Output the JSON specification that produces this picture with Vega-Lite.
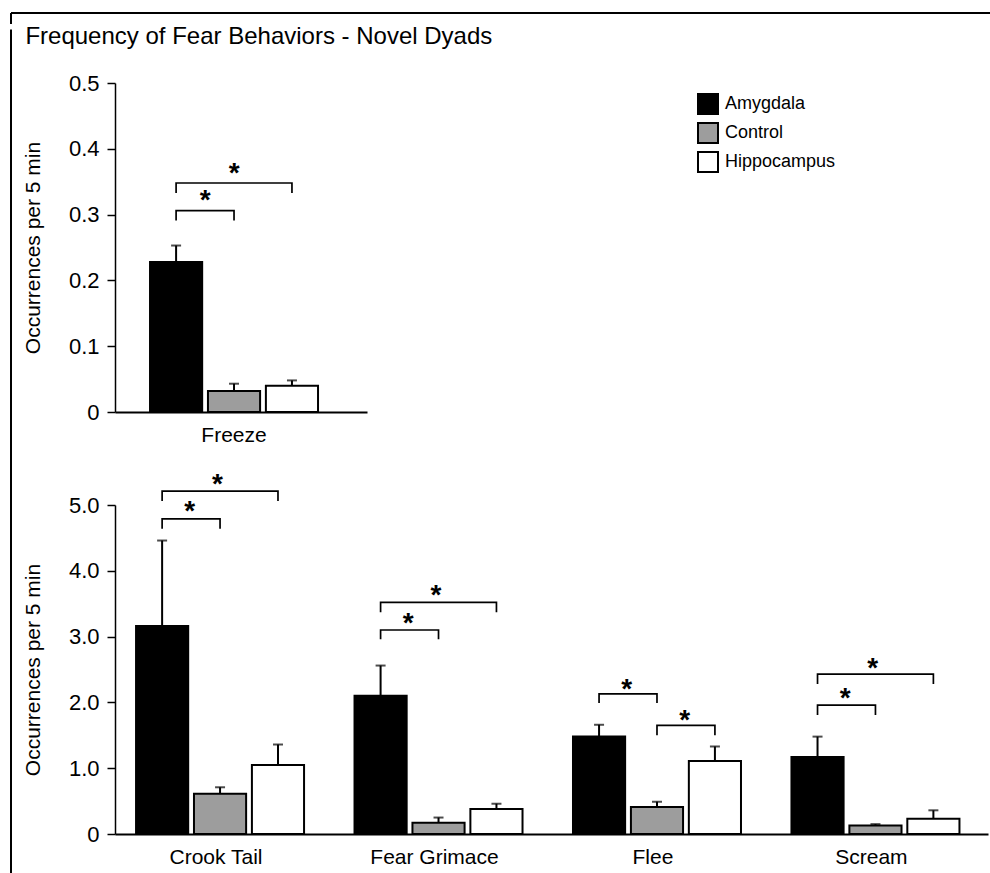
{
  "$schema": "https://vega.github.io/schema/vega-lite/v6.json",
  "padding": {"left": 10, "top": 12, "right": 0, "bottom": 0},
  "background": "white",
  "config": {
    "font": "Liberation Sans",
    "view": {"stroke": null},
    "axis": {"labelColor": "black", "titleColor": "black", "domainColor": "black", "tickColor": "black", "labelFont": "Liberation Sans", "titleFont": "Liberation Sans", "titleFontWeight": "normal", "grid": false},
    "legend": {"labelFont": "Liberation Sans", "labelColor": "black"}
  },
  "datasets": {
    "top_bars": [
      {"behavior": "Freeze", "group": "Amygdala", "mean": 0.228, "hi": 0.253},
      {"behavior": "Freeze", "group": "Control", "mean": 0.032, "hi": 0.043},
      {"behavior": "Freeze", "group": "Hippocampus", "mean": 0.040, "hi": 0.048}
    ],
    "top_br": [
      {"behavior": "Freeze", "bid": "f1", "seq": 1, "group": "Amygdala", "v": 0.291},
      {"behavior": "Freeze", "bid": "f1", "seq": 2, "group": "Amygdala", "v": 0.306},
      {"behavior": "Freeze", "bid": "f1", "seq": 3, "group": "Control", "v": 0.306},
      {"behavior": "Freeze", "bid": "f1", "seq": 4, "group": "Control", "v": 0.291},
      {"behavior": "Freeze", "bid": "f2", "seq": 1, "group": "Amygdala", "v": 0.333},
      {"behavior": "Freeze", "bid": "f2", "seq": 2, "group": "Amygdala", "v": 0.348},
      {"behavior": "Freeze", "bid": "f2", "seq": 3, "group": "Hippocampus", "v": 0.348},
      {"behavior": "Freeze", "bid": "f2", "seq": 4, "group": "Hippocampus", "v": 0.333}
    ],
    "top_st": [
      {"behavior": "Freeze", "from": "Amygdala", "span": "pair", "star": 0.327, "sig": "*"},
      {"behavior": "Freeze", "from": "Amygdala", "span": "wide", "star": 0.368, "sig": "*"}
    ],
    "bot_bars": [
      {"behavior": "Crook Tail", "group": "Amygdala", "mean": 3.16, "hi": 4.46},
      {"behavior": "Crook Tail", "group": "Control", "mean": 0.61, "hi": 0.71},
      {"behavior": "Crook Tail", "group": "Hippocampus", "mean": 1.05, "hi": 1.36},
      {"behavior": "Fear Grimace", "group": "Amygdala", "mean": 2.10, "hi": 2.56},
      {"behavior": "Fear Grimace", "group": "Control", "mean": 0.17, "hi": 0.25},
      {"behavior": "Fear Grimace", "group": "Hippocampus", "mean": 0.38, "hi": 0.46},
      {"behavior": "Flee", "group": "Amygdala", "mean": 1.48, "hi": 1.66},
      {"behavior": "Flee", "group": "Control", "mean": 0.41, "hi": 0.49},
      {"behavior": "Flee", "group": "Hippocampus", "mean": 1.11, "hi": 1.33},
      {"behavior": "Scream", "group": "Amygdala", "mean": 1.17, "hi": 1.48},
      {"behavior": "Scream", "group": "Control", "mean": 0.13, "hi": 0.15},
      {"behavior": "Scream", "group": "Hippocampus", "mean": 0.23, "hi": 0.36}
    ],
    "bot_br": [
      {"behavior": "Crook Tail", "bid": "c1", "seq": 1, "group": "Amygdala", "v": 4.64},
      {"behavior": "Crook Tail", "bid": "c1", "seq": 2, "group": "Amygdala", "v": 4.79},
      {"behavior": "Crook Tail", "bid": "c1", "seq": 3, "group": "Control", "v": 4.79},
      {"behavior": "Crook Tail", "bid": "c1", "seq": 4, "group": "Control", "v": 4.64},
      {"behavior": "Crook Tail", "bid": "c2", "seq": 1, "group": "Amygdala", "v": 5.06},
      {"behavior": "Crook Tail", "bid": "c2", "seq": 2, "group": "Amygdala", "v": 5.21},
      {"behavior": "Crook Tail", "bid": "c2", "seq": 3, "group": "Hippocampus", "v": 5.21},
      {"behavior": "Crook Tail", "bid": "c2", "seq": 4, "group": "Hippocampus", "v": 5.06},
      {"behavior": "Fear Grimace", "bid": "g1", "seq": 1, "group": "Amygdala", "v": 2.96},
      {"behavior": "Fear Grimace", "bid": "g1", "seq": 2, "group": "Amygdala", "v": 3.10},
      {"behavior": "Fear Grimace", "bid": "g1", "seq": 3, "group": "Control", "v": 3.10},
      {"behavior": "Fear Grimace", "bid": "g1", "seq": 4, "group": "Control", "v": 2.96},
      {"behavior": "Fear Grimace", "bid": "g2", "seq": 1, "group": "Amygdala", "v": 3.37},
      {"behavior": "Fear Grimace", "bid": "g2", "seq": 2, "group": "Amygdala", "v": 3.52},
      {"behavior": "Fear Grimace", "bid": "g2", "seq": 3, "group": "Hippocampus", "v": 3.52},
      {"behavior": "Fear Grimace", "bid": "g2", "seq": 4, "group": "Hippocampus", "v": 3.37},
      {"behavior": "Flee", "bid": "l1", "seq": 1, "group": "Amygdala", "v": 1.99},
      {"behavior": "Flee", "bid": "l1", "seq": 2, "group": "Amygdala", "v": 2.13},
      {"behavior": "Flee", "bid": "l1", "seq": 3, "group": "Control", "v": 2.13},
      {"behavior": "Flee", "bid": "l1", "seq": 4, "group": "Control", "v": 1.99},
      {"behavior": "Flee", "bid": "l2", "seq": 1, "group": "Control", "v": 1.50},
      {"behavior": "Flee", "bid": "l2", "seq": 2, "group": "Control", "v": 1.65},
      {"behavior": "Flee", "bid": "l2", "seq": 3, "group": "Hippocampus", "v": 1.65},
      {"behavior": "Flee", "bid": "l2", "seq": 4, "group": "Hippocampus", "v": 1.50},
      {"behavior": "Scream", "bid": "s1", "seq": 1, "group": "Amygdala", "v": 1.81},
      {"behavior": "Scream", "bid": "s1", "seq": 2, "group": "Amygdala", "v": 1.96},
      {"behavior": "Scream", "bid": "s1", "seq": 3, "group": "Control", "v": 1.96},
      {"behavior": "Scream", "bid": "s1", "seq": 4, "group": "Control", "v": 1.81},
      {"behavior": "Scream", "bid": "s2", "seq": 1, "group": "Amygdala", "v": 2.28},
      {"behavior": "Scream", "bid": "s2", "seq": 2, "group": "Amygdala", "v": 2.43},
      {"behavior": "Scream", "bid": "s2", "seq": 3, "group": "Hippocampus", "v": 2.43},
      {"behavior": "Scream", "bid": "s2", "seq": 4, "group": "Hippocampus", "v": 2.28}
    ],
    "bot_st": [
      {"behavior": "Crook Tail", "from": "Amygdala", "span": "pair", "star": 4.95, "sig": "*"},
      {"behavior": "Crook Tail", "from": "Amygdala", "span": "wide", "star": 5.37, "sig": "*"},
      {"behavior": "Fear Grimace", "from": "Amygdala", "span": "pair", "star": 3.25, "sig": "*"},
      {"behavior": "Fear Grimace", "from": "Amygdala", "span": "wide", "star": 3.68, "sig": "*"},
      {"behavior": "Flee", "from": "Amygdala", "span": "pair", "star": 2.25, "sig": "*"},
      {"behavior": "Flee", "from": "Control", "span": "pair", "star": 1.78, "sig": "*"},
      {"behavior": "Scream", "from": "Amygdala", "span": "pair", "star": 2.12, "sig": "*"},
      {"behavior": "Scream", "from": "Amygdala", "span": "wide", "star": 2.57, "sig": "*"}
    ]
  },
  "spacing": 0,
  "vconcat": [
    {
      "width": 980,
      "height": 11,
      "data": {"values": [{"edge": "frame"}]},
      "layer": [
        {"mark": {"type": "rule", "color": "black", "strokeWidth": 2}, "encoding": {"y": {"datum": 1, "type": "quantitative", "scale": {"domain": [0, 1]}, "axis": null}}},
        {"mark": {"type": "rule", "color": "black", "strokeWidth": 2}, "encoding": {"x": {"datum": 0, "type": "quantitative", "scale": {"domain": [0, 1]}, "axis": null}}}
      ]
    },
    {
      "columns": 2,
      "align": "none",
      "spacing": 10,
      "concat": [
        {
          "width": 1,
          "height": 790,
          "data": {"values": [{"edge": "frame"}]},
          "mark": {"type": "rule", "color": "black", "strokeWidth": 2},
          "encoding": {
            "x": {"datum": 0, "type": "quantitative", "scale": {"domain": [0, 1]}, "axis": null},
            "y": {"datum": 0, "type": "quantitative", "scale": {"domain": [0, 1]}, "axis": null},
            "y2": {"datum": 1.0677}
          }
        },
        {
          "title": {"text": "Frequency of Fear Behaviors - Novel Dyads", "anchor": "start", "fontSize": 24, "fontWeight": "normal", "color": "black", "font": "Liberation Sans", "offset": 23, "dx": 3},
          "spacing": 25,
          "vconcat": [
            {
              "width": 252,
              "height": 329,
              "layer": [
                {
                  "data": {"name": "top_bars"},
                  "mark": {"type": "bar", "stroke": "black", "strokeWidth": 2},
                  "encoding": {
                    "x": {"field": "behavior", "type": "nominal", "scale": {"paddingInner": 0, "paddingOuter": 0.25, "align": 0.417}, "axis": {"title": null, "ticks": false, "labelPadding": 12, "labelFontSize": 21, "domainWidth": 2, "labelAngle": 0}},
                    "xOffset": {"field": "group", "type": "nominal", "scale": {"domain": ["Amygdala", "Control", "Hippocampus"], "paddingInner": 0.1, "paddingOuter": 0}},
                    "y": {"field": "mean", "type": "quantitative", "scale": {"domain": [0, 0.5], "nice": false}, "axis": {"title": "Occurrences per 5 min", "titleFontSize": 21, "titlePadding": 25, "values": [0, 0.05, 0.1, 0.15, 0.2, 0.25, 0.3, 0.35, 0.4, 0.45, 0.5], "labelExpr": "abs(datum.value*10 - round(datum.value*10)) < 0.001 ? (datum.value == 0 ? '0' : format(datum.value, '.1f')) : ''", "tickSize": {"condition": {"test": "abs(datum.value*10 - round(datum.value*10)) < 0.001", "value": 8}, "value": 4}, "labelFontSize": 22, "labelPadding": 8, "domainWidth": 1.5, "tickWidth": 1.5}},
                    "fill": {"field": "group", "type": "nominal", "scale": {"domain": ["Amygdala", "Control", "Hippocampus"], "range": ["#000000", "#9d9d9d", "#ffffff"]}, "legend": {"orient": "none", "legendX": 686, "legendY": 80, "title": null, "symbolType": "square", "symbolSize": 400, "symbolStrokeColor": "black", "symbolStrokeWidth": 2, "labelFontSize": 18, "rowPadding": 1, "labelOffset": 6, "padding": 0}}
                  }
                },
                {
                  "data": {"name": "top_bars"},
                  "mark": {"type": "rule", "color": "black", "strokeWidth": 2},
                  "encoding": {"x": {"field": "behavior", "type": "nominal"}, "xOffset": {"field": "group", "type": "nominal"}, "y": {"field": "mean", "type": "quantitative"}, "y2": {"field": "hi"}}
                },
                {
                  "data": {"name": "top_bars"},
                  "mark": {"type": "tick", "color": "black", "thickness": 2, "size": 10},
                  "encoding": {"x": {"field": "behavior", "type": "nominal"}, "xOffset": {"field": "group", "type": "nominal"}, "y": {"field": "hi", "type": "quantitative"}}
                },
                {
                  "data": {"name": "top_br"},
                  "mark": {"type": "line", "color": "black", "strokeWidth": 1.7},
                  "encoding": {"x": {"field": "behavior", "type": "nominal"}, "xOffset": {"field": "group", "type": "nominal"}, "y": {"field": "v", "type": "quantitative"}, "detail": {"field": "bid"}, "order": {"field": "seq"}}
                },
                {
                  "data": {"name": "top_st"},
                  "transform": [{"filter": "datum.span == 'pair'"}],
                  "mark": {"type": "text", "fontSize": 28, "fontWeight": "bold", "baseline": "middle", "dx": 29, "dy": 4, "color": "black"},
                  "encoding": {"x": {"field": "behavior", "type": "nominal"}, "xOffset": {"field": "from", "type": "nominal"}, "y": {"field": "star", "type": "quantitative"}, "text": {"field": "sig"}}
                },
                {
                  "data": {"name": "top_st"},
                  "transform": [{"filter": "datum.span == 'wide'"}],
                  "mark": {"type": "text", "fontSize": 28, "fontWeight": "bold", "baseline": "middle", "dx": 58, "dy": 4, "color": "black"},
                  "encoding": {"x": {"field": "behavior", "type": "nominal"}, "xOffset": {"field": "from", "type": "nominal"}, "y": {"field": "star", "type": "quantitative"}, "text": {"field": "sig"}}
                }
              ]
            },
            {
              "width": 873,
              "height": 329,
              "layer": [
                {
                  "data": {"name": "bot_bars"},
                  "mark": {"type": "bar", "stroke": "black", "strokeWidth": 2},
                  "encoding": {
                    "x": {"field": "behavior", "type": "nominal", "scale": {"paddingInner": 0.268, "paddingOuter": 0.132, "align": 0.365}, "axis": {"title": null, "ticks": false, "labelPadding": 12, "labelFontSize": 21, "domainWidth": 2, "labelAngle": 0}},
                    "xOffset": {"field": "group", "type": "nominal", "scale": {"domain": ["Amygdala", "Control", "Hippocampus"], "paddingInner": 0.1, "paddingOuter": 0}},
                    "y": {"field": "mean", "type": "quantitative", "scale": {"domain": [0, 5], "nice": false}, "axis": {"title": "Occurrences per 5 min", "titleFontSize": 21, "titlePadding": 25, "values": [0, 0.5, 1, 1.5, 2, 2.5, 3, 3.5, 4, 4.5, 5], "labelExpr": "datum.value % 1 == 0 ? (datum.value == 0 ? '0' : format(datum.value, '.1f')) : ''", "tickSize": {"condition": {"test": "datum.value % 1 == 0", "value": 8}, "value": 4}, "labelFontSize": 22, "labelPadding": 8, "domainWidth": 1.5, "tickWidth": 1.5}},
                    "fill": {"field": "group", "type": "nominal", "scale": {"domain": ["Amygdala", "Control", "Hippocampus"], "range": ["#000000", "#9d9d9d", "#ffffff"]}, "legend": {"orient": "none", "legendX": 686, "legendY": 80, "title": null, "symbolType": "square", "symbolSize": 400, "symbolStrokeColor": "black", "symbolStrokeWidth": 2, "labelFontSize": 18, "rowPadding": 1, "labelOffset": 6, "padding": 0}}
                  }
                },
                {
                  "data": {"name": "bot_bars"},
                  "mark": {"type": "rule", "color": "black", "strokeWidth": 2},
                  "encoding": {"x": {"field": "behavior", "type": "nominal"}, "xOffset": {"field": "group", "type": "nominal"}, "y": {"field": "mean", "type": "quantitative"}, "y2": {"field": "hi"}}
                },
                {
                  "data": {"name": "bot_bars"},
                  "mark": {"type": "tick", "color": "black", "thickness": 2, "size": 10},
                  "encoding": {"x": {"field": "behavior", "type": "nominal"}, "xOffset": {"field": "group", "type": "nominal"}, "y": {"field": "hi", "type": "quantitative"}}
                },
                {
                  "data": {"name": "bot_br"},
                  "mark": {"type": "line", "color": "black", "strokeWidth": 1.7},
                  "encoding": {"x": {"field": "behavior", "type": "nominal"}, "xOffset": {"field": "group", "type": "nominal"}, "y": {"field": "v", "type": "quantitative"}, "detail": {"field": "bid"}, "order": {"field": "seq"}}
                },
                {
                  "data": {"name": "bot_st"},
                  "transform": [{"filter": "datum.span == 'pair'"}],
                  "mark": {"type": "text", "fontSize": 28, "fontWeight": "bold", "baseline": "middle", "dx": 27.7, "dy": 4, "color": "black"},
                  "encoding": {"x": {"field": "behavior", "type": "nominal"}, "xOffset": {"field": "from", "type": "nominal"}, "y": {"field": "star", "type": "quantitative"}, "text": {"field": "sig"}}
                },
                {
                  "data": {"name": "bot_st"},
                  "transform": [{"filter": "datum.span == 'wide'"}],
                  "mark": {"type": "text", "fontSize": 28, "fontWeight": "bold", "baseline": "middle", "dx": 55.3, "dy": 4, "color": "black"},
                  "encoding": {"x": {"field": "behavior", "type": "nominal"}, "xOffset": {"field": "from", "type": "nominal"}, "y": {"field": "star", "type": "quantitative"}, "text": {"field": "sig"}}
                }
              ]
            }
          ]
        }
      ]
    }
  ]
}
